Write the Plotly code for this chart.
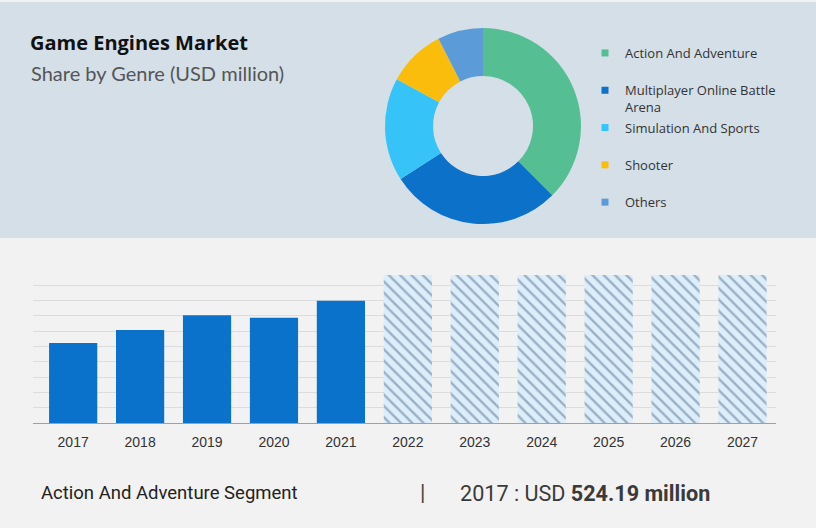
"""
Game Engines Market - share by genre donut plus yearly bar chart.
"""
import plotly.graph_objects as go

W, H = 816, 528

# donut data (share by genre, %)
genres = ["Action And Adventure", "Multiplayer Online Battle<br>Arena",
          "Simulation And Sports", "Shooter", "Others"]
genre_share = [37.5, 28.4, 17.0, 9.6, 7.5]
genre_colors = ["#55bf93", "#0b71c9", "#36c3f7", "#fbbd0c", "#5a9bd8"]

# bar data (Action And Adventure segment, USD million)
years_actual = ["2017", "2018", "2019", "2020", "2021"]
values_actual = [524.19, 609, 705, 689, 800]
years_forecast = ["2022", "2023", "2024", "2025", "2026", "2027"]
values_forecast = [967, 967, 967, 967, 967, 967]


def px_x(x):
    return x / W


def px_y(y):
    return 1 - y / H


fig = go.Figure()

fig.add_trace(go.Pie(
    labels=genres,
    values=genre_share,
    hole=0.51,
    sort=False,
    direction="clockwise",
    rotation=0,
    marker={"colors": genre_colors, "line": {"width": 0}},
    textinfo="none",
    hoverinfo="label+percent",
    showlegend=False,
    domain={"x": [px_x(385), px_x(581)], "y": [px_y(224), px_y(28)]},
))

# legend entries with small square swatches (kept off the bar axes)
for i, (name, col) in enumerate(zip(genres, genre_colors)):
    label = name if "<br>" in name else name + "<br>&nbsp;"
    fig.add_trace(go.Scatter(
        x=[None], y=[None], mode="markers", name=label,
        legendgroup=f"g{i}",
        marker={"symbol": "square", "size": 7, "color": col},
        hoverinfo="skip", xaxis="x2", yaxis="y2",
    ))

fig.add_trace(go.Bar(
    x=years_actual, y=values_actual,
    marker={"color": "#0b72cc", "line": {"width": 0}},
    showlegend=False,
    hovertemplate="%{x}: %{y}<extra></extra>",
))
fig.add_trace(go.Bar(
    x=years_forecast, y=values_forecast,
    marker={
        "color": "#ddeefb",
        "line": {"width": 0},
        "pattern": {"shape": "\\", "fgcolor": "#56718d", "bgcolor": "#ddeefb",
                    "size": 8, "solidity": 0.3},
    },
    showlegend=False,
    hoverinfo="skip",
))

# top panel background
fig.add_shape(type="rect", xref="paper", yref="paper",
              x0=0, x1=1, y0=px_y(238), y1=px_y(2),
              fillcolor="#d4dfe8", line={"width": 0}, layer="below")

annotations = [
    dict(text="<b>Game Engines Market</b>", x=px_x(28), y=px_y(42),
         font={"family": "Open Sans", "size": 20, "color": "#111111"}),
    dict(text="Share by Genre (USD million)", x=px_x(29), y=px_y(73),
         font={"family": "Lato", "size": 20, "color": "#555555"}),
    dict(text="Action And Adventure Segment", x=px_x(39), y=px_y(493),
         font={"family": "Roboto", "size": 18.5, "color": "#222222"}),
    dict(text="|", x=px_x(418), y=px_y(492),
         font={"family": "Roboto", "size": 22, "color": "#444444"}),
    dict(text="2017 : USD <b>524.19 million</b>", x=px_x(458), y=px_y(493),
         font={"family": "Roboto", "size": 21.6, "color": "#3a3a3a"}),
]
for a in annotations:
    a.update(xref="paper", yref="paper", xanchor="left", yanchor="middle",
             showarrow=False)

fig.update_layout(
    width=W, height=H,
    margin={"l": 0, "r": 0, "t": 0, "b": 0},
    paper_bgcolor="#f2f2f2",
    plot_bgcolor="rgba(0,0,0,0)",
    barmode="overlay",
    bargap=0.28,
    annotations=annotations,
    legend={
        "x": px_x(585), "y": px_y(38), "xanchor": "left", "yanchor": "top",
        "bgcolor": "rgba(0,0,0,0)", "valign": "top",
        "font": {"family": "Open Sans", "size": 13, "color": "#333333"},
        "tracegroupgap": 0.5,
    },
    xaxis={
        "type": "category",
        "domain": [px_x(33), px_x(776)],
        "categoryorder": "array",
        "categoryarray": years_actual + years_forecast,
        "range": [-0.6, 10.5],
        "showline": True, "linecolor": "#a0a0a0", "linewidth": 1,
        "showgrid": False,
        "ticks": "outside", "ticklen": 6, "tickcolor": "rgba(0,0,0,0)",
        "tickfont": {"family": "Liberation Sans", "size": 14, "color": "#333333"},
        "fixedrange": True,
    },
    yaxis={
        "domain": [px_y(423.3), px_y(270)],
        "range": [0, 1000],
        "dtick": 100,
        "showticklabels": False,
        "gridcolor": "#dcdcdc",
        "zeroline": False,
        "fixedrange": True,
    },
    xaxis2={"visible": False, "domain": [0, 0.01], "anchor": "y2"},
    yaxis2={"visible": False, "domain": [0, 0.01], "anchor": "x2"},
    showlegend=True,
)

fig.write_html("out.html", config={"displayModeBar": False},
               post_script="document.body.style.margin='0';")
